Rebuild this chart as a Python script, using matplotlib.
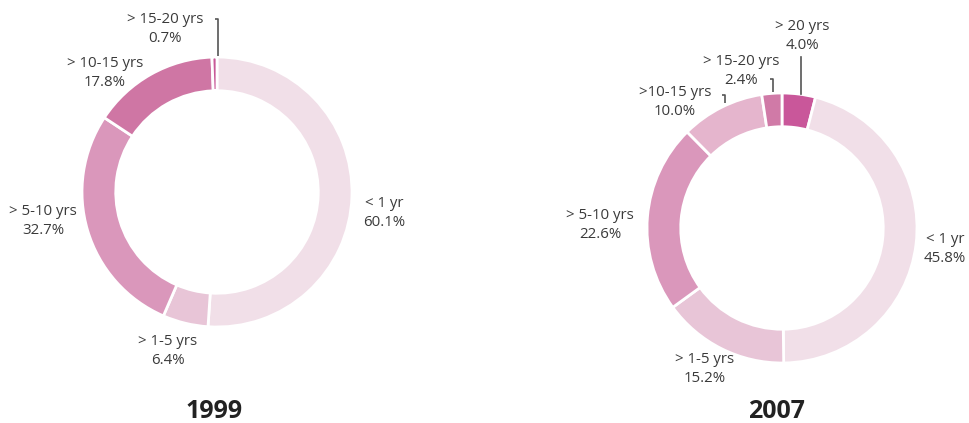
import numpy as np
import matplotlib
matplotlib.use('Agg')
import matplotlib.pyplot as plt

plt.rcParams['font.family'] = ['Open Sans', 'DejaVu Sans']

# 1999 - clockwise from the top
labels_1999 = ['< 1 yr', '> 1-5 yrs', '> 5-10 yrs', '> 10-15 yrs', '> 15-20 yrs']
values_1999 = [60.1, 6.4, 32.7, 17.8, 0.7]
colors_1999 = ['#f1dfe8', '#e8c5d7', '#da97bb', '#cf76a4', '#c85a98']

# 2007 - clockwise from the top
labels_2007 = ['> 20 yrs', '< 1 yr', '> 1-5 yrs', '> 5-10 yrs', '>10-15 yrs', '> 15-20 yrs']
values_2007 = [4.0, 45.8, 15.2, 22.6, 10.0, 2.4]
colors_2007 = ['#c9579a', '#f1dfe8', '#e8c5d7', '#da97bb', '#e5b5cd', '#d07aa7']

W, H = 970, 423
TXT = '#3a3a3a'

fig = plt.figure(figsize=(W/100., H/100.), dpi=100)
ax = fig.add_axes([0, 0, 1, 1])
ax.set_xlim(0, W)
ax.set_ylim(0, H)
ax.set_aspect('equal')
ax.axis('off')

def donut(values, colors, cx, cy, r):
    ax.pie(values, colors=colors, startangle=90, counterclock=False,
           center=(cx, H - cy), radius=r,
           wedgeprops=dict(width=0.25*r, edgecolor='white', linewidth=2))

def lab(text, x, y):
    # x, y in image pixels (y down)
    ax.text(x, H - y, text, ha='center', va='center', fontsize=10.8,
            color=TXT, linespacing=1.3)

def leader(x, y0, y1):
    ax.plot([x - 3, x, x], [H - y0, H - y0, H - y1], color='#555555', lw=1.2,
            solid_capstyle='butt')

donut(values_1999, colors_1999, 217, 192, 135)
donut(values_2007, colors_2007, 782, 228, 135)
ax.set_xlim(0, W)
ax.set_ylim(0, H)

fmt = lambda l, v: '%s\n%.1f%%' % (l, v)

# 1999 labels
pos_1999 = [(384, 213), (168, 351), (43, 221), (105, 73), (165, 29)]
for l, v, p in zip(labels_1999, values_1999, pos_1999):
    lab(fmt(l, v), *p)
leader(218, 19, 56)

# 2007 labels
pos_2007 = [(802, 36), (945, 249), (705, 369), (600, 225), (675, 102), (741, 71)]
for l, v, p in zip(labels_2007, values_2007, pos_2007):
    lab(fmt(l, v), *p)
ax.plot([801, 801], [H - 57, H - 94], color='#555555', lw=1.2)
leader(773, 79, 92)
leader(725, 95, 103)

ax.text(214, H - 411, '1999', ha='center', va='center', fontsize=18,
        fontweight='bold', color='#222222')
ax.text(776, H - 411, '2007', ha='center', va='center', fontsize=18,
        fontweight='bold', color='#222222')

fig.savefig('out.png', dpi=100)
